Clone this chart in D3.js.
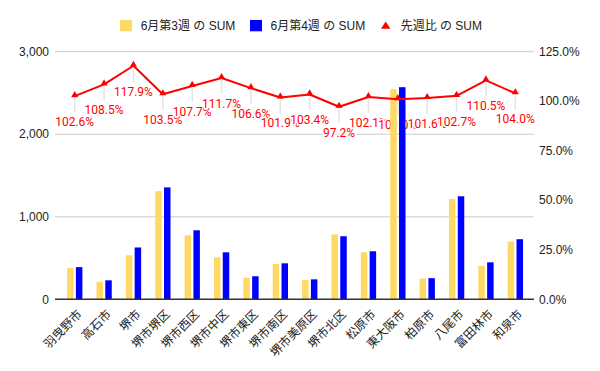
<!DOCTYPE html>
<html><head><meta charset="utf-8">
<script src="https://cdn.jsdelivr.net/npm/d3@7"></script>
<style>
html,body{margin:0;padding:0;background:#fff;}
svg{display:block;}
</style></head>
<body>
<svg id="chart" width="600" height="371"></svg>
<script>
const categories = ["羽曳野市","高石市","堺市","堺市堺区","堺市西区","堺市中区","堺市東区","堺市南区","堺市美原区","堺市北区","松原市","東大阪市","柏原市","八尾市","富田林市","和泉市"];
const week3 = [380, 212, 533, 1310, 776, 509, 262, 428, 234, 786, 570, 2545, 252, 1215, 405, 700];
const week4 = [390, 230, 628, 1356, 836, 569, 279, 436, 242, 764, 582, 2570, 256, 1248, 448, 728];
const ratio = [102.6, 108.5, 117.9, 103.5, 107.7, 111.7, 106.6, 101.9, 103.4, 97.2, 102.1, 101.0, 101.6, 102.7, 110.5, 104.0];
const leftTicks = [0, 1000, 2000, 3000];
const rightTicks = [0, 25, 50, 75, 100, 125];
const legendLabels = ["6月第3週 の SUM", "6月第4週 の SUM", "先週比 の SUM"];

const colYellow = "#ffd966", colBlue = "#0000ff", colRed = "#ff0000";
const latin = "Arial, 'Liberation Sans', sans-serif";
const cjk = "Arial, 'Liberation Sans', 'Noto Sans CJK JP', sans-serif";

const svg = d3.select("#chart");
const x = d3.scaleBand().domain(categories).range([60, 530]);
const yL = d3.scaleLinear().domain([0, 3000]).range([299.3, 51.7]);
const yR = d3.scaleLinear().domain([0, 125]).range([299.3, 51.7]);
const gx0 = 55, gx1 = 534;

svg.append("g").selectAll("line").data(leftTicks.filter(d => d > 0)).join("line")
  .attr("x1", gx0).attr("x2", gx1)
  .attr("y1", d => yL(d)).attr("y2", d => yL(d))
  .attr("stroke", "#cccccc").attr("stroke-width", 1);

const fmt = d3.format(",");
svg.append("g").selectAll("text").data(leftTicks).join("text")
  .attr("x", 49).attr("y", d => yL(d)).attr("dy", "0.35em")
  .attr("text-anchor", "end").attr("font-family", latin).attr("font-size", 12)
  .attr("fill", "#222").text(d => fmt(d));

svg.append("g").selectAll("text").data(rightTicks).join("text")
  .attr("x", 539).attr("y", d => yR(d)).attr("dy", "0.35em")
  .attr("text-anchor", "start").attr("font-family", latin).attr("font-size", 12)
  .attr("fill", "#222").text(d => d.toFixed(1) + "%");

const cx = d => x(d) + x.bandwidth() / 2;
svg.append("g").selectAll("line").data(categories).join("line")
  .attr("x1", d => cx(d)).attr("x2", d => cx(d))
  .attr("y1", (d, i) => yR(ratio[i]) + 2).attr("y2", (d, i) => yR(ratio[i]) + 16)
  .attr("stroke", "#e4e4e4").attr("stroke-width", 1.5);

svg.append("g").selectAll("text").data(categories).join("text")
  .attr("x", d => cx(d)).attr("y", (d, i) => yR(ratio[i]) + 30)
  .attr("text-anchor", "middle").attr("font-family", "Roboto, Arial, sans-serif").attr("font-size", 12)
  .attr("fill", colRed).attr("stroke", "#fff").attr("stroke-width", 3)
  .attr("paint-order", "stroke").attr("stroke-linejoin", "round")
  .text((d, i) => ratio[i].toFixed(1) + "%");

const bw = 6.5;
svg.append("g").selectAll("rect").data(categories).join("rect")
  .attr("x", d => cx(d) - 7.6).attr("width", bw)
  .attr("y", (d, i) => yL(week3[i])).attr("height", (d, i) => yL(0) - yL(week3[i]))
  .attr("fill", colYellow);
svg.append("g").selectAll("rect").data(categories).join("rect")
  .attr("x", d => cx(d) + 1.2).attr("width", bw)
  .attr("y", (d, i) => yL(week4[i])).attr("height", (d, i) => yL(0) - yL(week4[i]))
  .attr("fill", colBlue);

svg.append("line").attr("x1", gx0).attr("x2", gx1)
  .attr("y1", yL(0)).attr("y2", yL(0)).attr("stroke", "#333").attr("stroke-width", 1.5);

const line = d3.line().x((d, i) => cx(categories[i])).y(d => yR(d));
svg.append("path").datum(ratio).attr("d", line)
  .attr("fill", "none").attr("stroke", colRed).attr("stroke-width", 2).attr("stroke-linejoin", "round");
const tri = d3.symbol().type(d3.symbolTriangle).size(22);
svg.append("g").selectAll("path").data(ratio).join("path")
  .attr("d", tri)
  .attr("transform", (d, i) => `translate(${cx(categories[i])},${yR(d) - 1})`)
  .attr("fill", colRed);

svg.append("g").selectAll("text").data(categories).join("text")
  .attr("transform", d => `translate(${cx(d) + 5},${312}) rotate(-45)`)
  .attr("text-anchor", "end").attr("dy", "0.35em")
  .attr("font-family", cjk).attr("font-size", 12).attr("fill", "#222")
  .text(d => d);

const lg = svg.append("g").attr("font-family", cjk).attr("font-size", 12).attr("fill", "#222");
const legendX = [120, 250, 381];
lg.append("rect").attr("x", legendX[0]).attr("y", 20).attr("width", 12).attr("height", 11.3).attr("fill", colYellow);
lg.append("rect").attr("x", legendX[1]).attr("y", 20).attr("width", 12).attr("height", 11.3).attr("fill", colBlue);
lg.append("path").attr("d", `M${legendX[2]},28.7 L${legendX[2] + 9.4},28.7 L${legendX[2] + 4.7},21.5 Z`).attr("fill", colRed);
const textX = [140.7, 270.5, 400.7];
legendLabels.forEach((t, i) => {
  lg.append("text").attr("x", textX[i]).attr("y", 25.7).attr("dy", "0.35em").text(t);
});
</script>
</body></html>
